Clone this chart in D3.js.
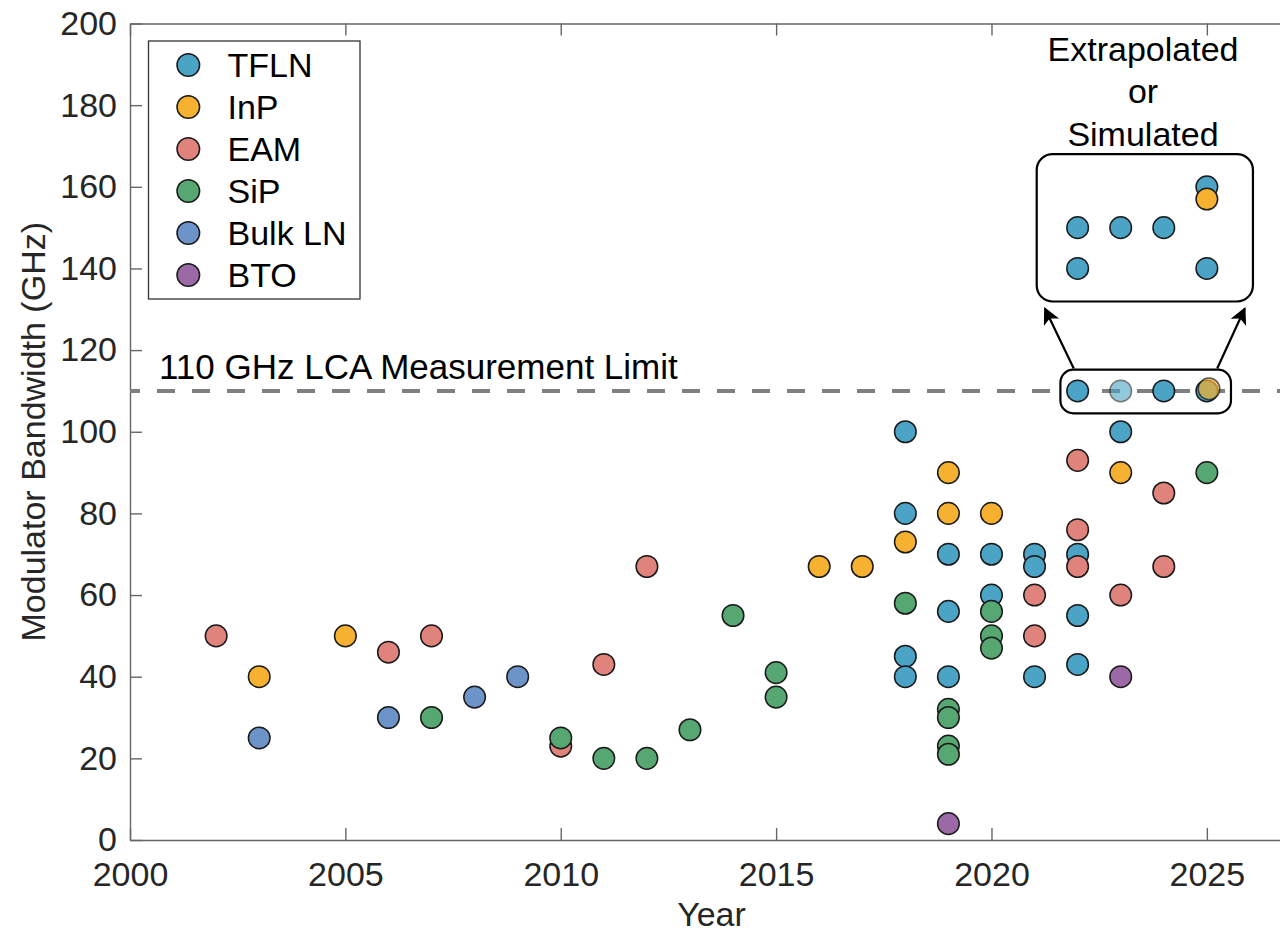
<!DOCTYPE html>
<html>
<head>
<meta charset="utf-8">
<script src="https://cdn.jsdelivr.net/npm/d3@7"></script>
<style>
  html, body { margin: 0; padding: 0; background: #fff; }
  svg { display: block; font-family: "Liberation Sans", Arial, sans-serif; }
</style>
</head>
<body>
<svg id="chart" width="1280" height="932"></svg>
<script>
// ---------------- DATA ----------------
const categories = ["TFLN", "InP", "EAM", "SiP", "Bulk LN", "BTO"];
const colors = ["#4BA4C5", "#F5B12F", "#E0837D", "#56A772", "#6C94C8", "#9B69A5"];

// [year, bandwidth GHz]
const tfln   = [[2018,100],[2018,80],[2018,45],[2018,40],[2019,70],[2019,56],[2019,40],
                [2020,70],[2020,60],[2021,70],[2021,67],[2021,40],[2022,70],[2022,55],[2022,43],[2023,100]];
const inp    = [[2003,40],[2005,50],[2016,67],[2017,67],[2018,73],[2019,90],[2019,80],[2020,80],[2023,90]];
const eam    = [[2002,50],[2006,46],[2007,50],[2010,23],[2011,43],[2012,67],[2021,60],[2021,50],
                [2022,93],[2022,76],[2022,67],[2023,60],[2024,85],[2024,67]];
const sip    = [[2007,30],[2010,25],[2011,20],[2012,20],[2013,27],[2014,55],[2015,41],[2015,35],
                [2018,58],[2019,32],[2019,30],[2019,23],[2019,21],[2020,56],[2020,50],[2020,47],[2025,90]];
const bulkLN = [[2003,25],[2006,30],[2008,35],[2009,40]];
const bto    = [[2019,4],[2023,40]];
const seriesData = [tfln, inp, eam, sip, bulkLN, bto];

// points clamped at the 110 GHz limit: [year, value, categoryIndex, opacity]
const limitPoints = [[2022,110,0,1],[2023,110,0,0.6],[2024,110,0,1],[2025,110,0,1],[2025.05,110.5,1,0.72]];
// extrapolated or simulated values (shown in the inset): [year, value, categoryIndex]
const extrapolated = [[2022,150,0],[2023,150,0],[2024,150,0],[2022,140,0],[2025,140,0],[2025,160,0],[2025,157,1]];

const xTicks = [2000, 2005, 2010, 2015, 2020, 2025];
const yTicks = [0, 20, 40, 60, 80, 100, 120, 140, 160, 180, 200];
const limitValue = 110;
const limitLabel = "110 GHz LCA Measurement Limit";
const insetLabel = ["Extrapolated", "or", "Simulated"];

// ---------------- LAYOUT ----------------
const svg = d3.select("#chart");
const pL = 130, pT = 23.5, pB = 840, pR = 1293;
const x = d3.scaleLinear().domain([2000, 2027]).range([pL, pR]);
const y = d3.scaleLinear().domain([0, 200]).range([pB, pT]);
const FS = 34;
const axisColor = "#666";
const textColor = "#262626";

// axes
const gx = svg.append("g").attr("transform", `translate(0,${pB})`)
  .call(d3.axisBottom(x).tickValues(xTicks).tickFormat(d3.format("d")).tickSizeInner(-12).tickSizeOuter(0).tickPadding(22));
const gxTop = svg.append("g").attr("transform", `translate(0,${pT})`)
  .call(d3.axisTop(x).tickValues(xTicks).tickFormat("").tickSizeInner(-12).tickSizeOuter(0));
const gy = svg.append("g").attr("transform", `translate(${pL},0)`)
  .call(d3.axisLeft(y).tickValues(yTicks).tickFormat(d3.format("d")).tickSizeInner(-12).tickSizeOuter(0).tickPadding(13));
[gx, gxTop, gy].forEach(g => {
  g.select(".domain").attr("stroke", axisColor).attr("stroke-width", 1.4);
  g.selectAll(".tick line").attr("stroke", axisColor).attr("stroke-width", 1.4);
  g.selectAll(".tick text").attr("fill", textColor).attr("font-size", FS).attr("font-family", "Liberation Sans, Arial, sans-serif");
});
gx.selectAll(".tick text").attr("dy", "0.71em");

// axis labels
svg.append("text").attr("x", (pL + pR) / 2).attr("y", 926).attr("text-anchor", "middle")
  .attr("font-size", FS).attr("fill", textColor).text("Year");
svg.append("text").attr("transform", `translate(45,${(pT + pB) / 2}) rotate(-90)`)
  .attr("text-anchor", "middle").attr("font-size", FS).attr("fill", textColor).text("Modulator Bandwidth (GHz)");

// limit line
svg.append("line").attr("x1", pL).attr("x2", pR).attr("y1", y(limitValue)).attr("y2", y(limitValue))
  .attr("stroke", "#808080").attr("stroke-width", 4).attr("stroke-dasharray", "18,17").attr("stroke-dashoffset", 8);
svg.append("text").attr("x", 159).attr("y", 379).attr("font-size", 35).attr("fill", "#000").text(limitLabel);

// markers
const R = 10.8;
const plotG = svg.append("g");
seriesData.forEach((pts, i) => {
  plotG.selectAll(null).data(pts).enter().append("circle")
    .attr("cx", d => x(d[0])).attr("cy", d => y(d[1])).attr("r", R)
    .attr("fill", colors[i]).attr("stroke", "#1a1a1a").attr("stroke-width", 1.5);
});
plotG.selectAll(null).data(limitPoints).enter().append("circle")
  .attr("cx", d => x(d[0])).attr("cy", d => y(d[1])).attr("r", R)
  .attr("fill", d => colors[d[2]]).attr("stroke", "#1a1a1a").attr("stroke-width", 1.5)
  .attr("opacity", d => d[3]);

// lower rounded box around limit points
svg.append("rect").attr("x", x(2021.6)).attr("y", y(115.2))
  .attr("width", x(2025.56) - x(2021.6)).attr("height", y(104.5) - y(115.2))
  .attr("rx", 13).attr("ry", 13).attr("fill", "none").attr("stroke", "#000").attr("stroke-width", 2.2);

// inset box
svg.append("rect").attr("x", x(2021.05)).attr("y", y(168))
  .attr("width", x(2026.07) - x(2021.05)).attr("height", y(131.9) - y(168))
  .attr("rx", 16).attr("ry", 16).attr("fill", "#fff").attr("stroke", "#000").attr("stroke-width", 2.2);

svg.selectAll(null).data(extrapolated).enter().append("circle")
  .attr("cx", d => x(d[0])).attr("cy", d => y(d[1])).attr("r", R)
  .attr("fill", d => colors[d[2]]).attr("stroke", "#1a1a1a").attr("stroke-width", 1.5);

// arrows
const defs = svg.append("defs");
defs.append("marker").attr("id", "arrow").attr("viewBox", "0 0 10 10").attr("refX", 9).attr("refY", 5)
  .attr("markerWidth", 17).attr("markerHeight", 17).attr("markerUnits", "userSpaceOnUse")
  .attr("orient", "auto")
  .append("path").attr("d", "M0,0 L10,5 L0,10 L2.5,5 Z").attr("fill", "#000");
const arrows = [[2021.91, 115.5, 2021.24, 130.2], [2025.24, 115.5, 2025.88, 130.2]];
svg.selectAll(null).data(arrows).enter().append("line")
  .attr("x1", d => x(d[0])).attr("y1", d => y(d[1])).attr("x2", d => x(d[2])).attr("y2", d => y(d[3]))
  .attr("stroke", "#000").attr("stroke-width", 2.2).attr("marker-end", "url(#arrow)");

// inset label
svg.selectAll(null).data(insetLabel).enter().append("text")
  .attr("x", 1143).attr("y", (d, i) => [61, 102.5, 145.5][i]).attr("text-anchor", "middle")
  .attr("font-size", FS).attr("fill", "#000").text(d => d);

// legend
const lg = svg.append("g");
lg.append("rect").attr("x", 148.5).attr("y", 41).attr("width", 211.5).attr("height", 258)
  .attr("fill", "#fff").attr("stroke", "#333").attr("stroke-width", 1.3);
categories.forEach((c, i) => {
  const cy = 65 + i * 42;
  lg.append("circle").attr("cx", 188.3).attr("cy", cy).attr("r", 11.3)
    .attr("fill", colors[i]).attr("stroke", "#1a1a1a").attr("stroke-width", 1.5);
  lg.append("text").attr("x", 227.5).attr("y", cy + 12).attr("font-size", FS).attr("fill", "#000").text(c);
});
</script>
</body>
</html>
